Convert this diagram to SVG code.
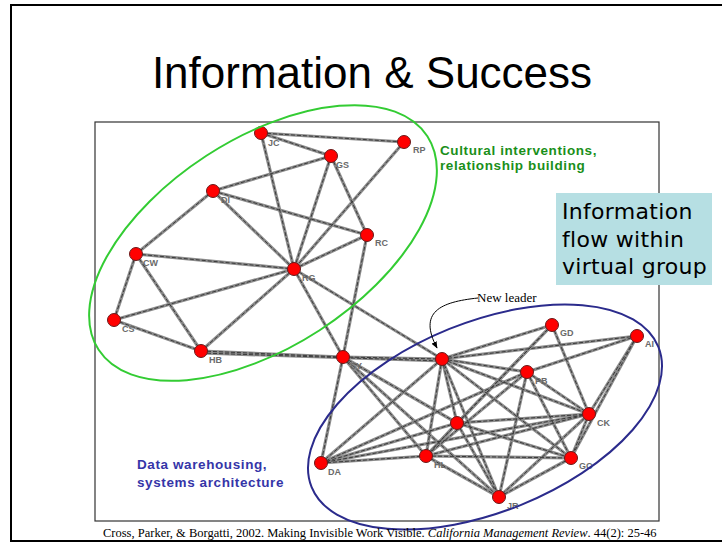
<svg xmlns="http://www.w3.org/2000/svg" xmlns:xlink="http://www.w3.org/1999/xlink" width="722" height="546" viewBox="0 0 722 546">
<style>
.nd{fill:#ff0000;stroke:#6a1a1a;stroke-width:1}
.lb{font-family:"Liberation Sans",Arial,sans-serif;font-size:9px;font-weight:bold;fill:#6a6a6a}
.cap{font-family:"Liberation Sans",Arial,sans-serif;font-size:13.5px;font-weight:bold;letter-spacing:0.6px}
.note{font-family:"DejaVu Sans","Noto Sans",sans-serif;font-size:22px;letter-spacing:0.3px;fill:#000}
</style>
<defs>
<marker id="ah" viewBox="0 0 10 10" refX="9" refY="5" markerWidth="7" markerHeight="7" orient="auto">
<path d="M0,1 L10,5 L0,9 z" fill="#000"/>
</marker>
<g id="edgeset">
<line x1="261" y1="133" x2="404" y2="142"/>
<line x1="261" y1="133" x2="331" y2="156"/>
<line x1="261" y1="133" x2="294" y2="269"/>
<line x1="331" y1="156" x2="213" y2="191"/>
<line x1="331" y1="156" x2="294" y2="269"/>
<line x1="331" y1="156" x2="367" y2="235"/>
<line x1="404" y1="142" x2="294" y2="269"/>
<line x1="213" y1="191" x2="367" y2="235"/>
<line x1="213" y1="191" x2="294" y2="269"/>
<line x1="213" y1="191" x2="136" y2="254"/>
<line x1="136" y1="254" x2="294" y2="269"/>
<line x1="136" y1="254" x2="114" y2="320"/>
<line x1="136" y1="254" x2="201" y2="351"/>
<line x1="114" y1="320" x2="294" y2="269"/>
<line x1="114" y1="320" x2="201" y2="351"/>
<line x1="201" y1="351" x2="294" y2="269"/>
<line x1="294" y1="269" x2="367" y2="235"/>
<line x1="294" y1="269" x2="343" y2="357"/>
<line x1="367" y1="235" x2="343" y2="357"/>
<line x1="294" y1="269" x2="442" y2="359"/>
<line x1="201" y1="351" x2="343" y2="357"/>
<line x1="201" y1="353" x2="442" y2="361"/>
<line x1="343" y1="357" x2="442" y2="359"/>
<line x1="343" y1="357" x2="321" y2="463"/>
<line x1="343" y1="357" x2="426" y2="456"/>
<line x1="343" y1="357" x2="457" y2="423"/>
<line x1="343" y1="357" x2="499" y2="497"/>
<line x1="442" y1="359" x2="552" y2="325"/>
<line x1="442" y1="359" x2="637" y2="336"/>
<line x1="442" y1="359" x2="527" y2="372"/>
<line x1="442" y1="359" x2="589" y2="414"/>
<line x1="442" y1="359" x2="571" y2="458"/>
<line x1="442" y1="359" x2="499" y2="497"/>
<line x1="442" y1="359" x2="457" y2="423"/>
<line x1="442" y1="359" x2="426" y2="456"/>
<line x1="442" y1="359" x2="321" y2="463"/>
<line x1="552" y1="325" x2="457" y2="423"/>
<line x1="552" y1="325" x2="589" y2="414"/>
<line x1="552" y1="325" x2="426" y2="456"/>
<line x1="637" y1="336" x2="527" y2="372"/>
<line x1="637" y1="336" x2="589" y2="414"/>
<line x1="637" y1="336" x2="571" y2="458"/>
<line x1="527" y1="372" x2="589" y2="414"/>
<line x1="527" y1="372" x2="499" y2="497"/>
<line x1="527" y1="372" x2="571" y2="458"/>
<line x1="527" y1="372" x2="321" y2="463"/>
<line x1="527" y1="372" x2="426" y2="456"/>
<line x1="589" y1="414" x2="457" y2="423"/>
<line x1="589" y1="414" x2="426" y2="456"/>
<line x1="589" y1="414" x2="321" y2="463"/>
<line x1="589" y1="414" x2="571" y2="458"/>
<line x1="589" y1="414" x2="499" y2="497"/>
<line x1="457" y1="423" x2="321" y2="463"/>
<line x1="457" y1="423" x2="426" y2="456"/>
<line x1="457" y1="423" x2="571" y2="458"/>
<line x1="457" y1="423" x2="499" y2="497"/>
<line x1="321" y1="463" x2="426" y2="456"/>
<line x1="426" y1="456" x2="499" y2="497"/>
<line x1="426" y1="456" x2="571" y2="458"/>
<line x1="571" y1="458" x2="499" y2="497"/>
</g>
</defs>
<rect x="0" y="0" width="722" height="546" fill="#fff"/>
<rect x="11" y="5" width="720" height="536" fill="none" stroke="#000" stroke-width="2"/>
<text x="372" y="88" text-anchor="middle" font-family="Liberation Sans,Arial,sans-serif" font-size="44" fill="#000">Information &amp; Success</text>
<rect id="frame" x="95" y="122" width="564" height="399" fill="none" stroke="#333" stroke-width="1.2"/>
<g id="connectors" fill="none">
<use xlink:href="#edgeset" stroke="#8c8c8c" stroke-width="3.2"/>
<use xlink:href="#edgeset" stroke="#3a3a3a" stroke-width="1" stroke-dasharray="4 2"/>
</g>
<g id="nodes">
<g id="n-JC"><circle class="nd" cx="261" cy="133" r="6.5"/><text class="lb" x="268" y="146">JC</text></g>
<g id="n-GS"><circle class="nd" cx="331" cy="156" r="6.5"/><text class="lb" x="336" y="168">GS</text></g>
<g id="n-RP"><circle class="nd" cx="404" cy="142" r="6.5"/><text class="lb" x="413" y="153">RP</text></g>
<g id="n-DI"><circle class="nd" cx="213" cy="191" r="6.5"/><text class="lb" x="221" y="203">DI</text></g>
<g id="n-RC"><circle class="nd" cx="367" cy="235" r="6.5"/><text class="lb" x="375" y="246">RC</text></g>
<g id="n-CW"><circle class="nd" cx="136" cy="254" r="6.5"/><text class="lb" x="143" y="266">CW</text></g>
<g id="n-RG"><circle class="nd" cx="294" cy="269" r="6.5"/><text class="lb" x="302" y="281">RG</text></g>
<g id="n-CS"><circle class="nd" cx="114" cy="320" r="6.5"/><text class="lb" x="122" y="332">CS</text></g>
<g id="n-HB"><circle class="nd" cx="201" cy="351" r="6.5"/><text class="lb" x="209" y="363">HB</text></g>
<g id="n-SY"><circle class="nd" cx="343" cy="357" r="6.5"/><text class="lb" x="350" y="369">SY</text></g>
<g id="n-LD"><circle class="nd" cx="442" cy="359" r="6.5"/></g>
<g id="n-GD"><circle class="nd" cx="552" cy="325" r="6.5"/><text class="lb" x="560" y="336">GD</text></g>
<g id="n-AI"><circle class="nd" cx="637" cy="336" r="6.5"/><text class="lb" x="645" y="347">AI</text></g>
<g id="n-PB"><circle class="nd" cx="527" cy="372" r="6.5"/><text class="lb" x="535" y="384">PB</text></g>
<g id="n-CK"><circle class="nd" cx="589" cy="414" r="6.5"/><text class="lb" x="597" y="426">CK</text></g>
<g id="n-LF"><circle class="nd" cx="457" cy="423" r="6.5"/></g>
<g id="n-DA"><circle class="nd" cx="321" cy="463" r="6.5"/><text class="lb" x="328" y="475">DA</text></g>
<g id="n-HL"><circle class="nd" cx="426" cy="456" r="6.5"/><text class="lb" x="434" y="468">HL</text></g>
<g id="n-GC"><circle class="nd" cx="571" cy="458" r="6.5"/><text class="lb" x="579" y="469">GC</text></g>
<g id="n-JR"><circle class="nd" cx="499" cy="497" r="6.5"/><text class="lb" x="507" y="509">JR</text></g>
</g>
<ellipse id="green-group" cx="263" cy="243" rx="196" ry="104" transform="rotate(-33 263 243)" fill="none" stroke="#33cc33" stroke-width="2"/>
<ellipse id="blue-group" cx="485" cy="417" rx="187" ry="95" transform="rotate(-22 485 417)" fill="none" stroke="#2b2b8c" stroke-width="2"/>
<g id="cultural-label" class="cap" fill="#1a8f1a">
<text x="440" y="155">Cultural interventions,</text>
<text x="440" y="170">relationship building</text>
</g>
<g id="data-label" class="cap" fill="#3535a8">
<text x="137" y="469">Data warehousing,</text>
<text x="137" y="487">systems architecture</text>
</g>
<g id="note">
<rect x="556" y="193" width="156" height="92" fill="#b6dfe3"/>
<text class="note" x="562" y="219">Information</text>
<text class="note" x="562" y="247">flow within</text>
<text class="note" x="562" y="274">virtual group</text>
</g>
<g id="new-leader">
<text x="477" y="302" font-family="Liberation Serif,Times New Roman,serif" font-size="13" fill="#000">New leader</text>
<path d="M478,298 C440,302 418,312 437,348" fill="none" stroke="#000" stroke-width="1" marker-end="url(#ah)"/>
</g>
<text x="103" y="537" font-family="Liberation Serif,Times New Roman,serif" font-size="12.5" fill="#000">Cross, Parker, &amp; Borgatti, 2002. Making Invisible Work Visible. <tspan font-style="italic">California Management Review</tspan>. 44(2): 25-46</text>
</svg>
